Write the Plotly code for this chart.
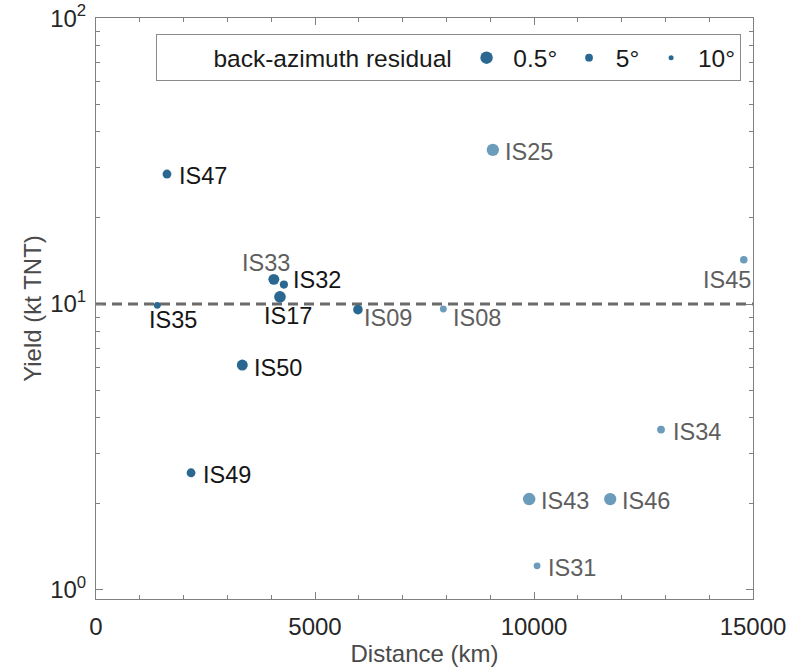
import numpy as np
import plotly.graph_objects as go

# ---------------- data ----------------
stations = ["IS47", "IS33", "IS32", "IS17", "IS35", "IS09", "IS08", "IS25",
            "IS45", "IS50", "IS49", "IS34", "IS43", "IS46", "IS31", "IS27"]
distance_km = [1620, 4060, 4290, 4200, 1400, 5980, 7930, 9060,
               14790, 3340, 2170, 12900, 9890, 11740, 10070, 4810]
yield_kt = [28.5, 12.2, 11.7, 10.6, 9.9, 9.56, 9.61, 34.6,
            14.3, 6.12, 2.57, 3.64, 2.08, 2.08, 1.215, 0.925]
baz_residual_deg = [4.0, 2.0, 4.7, 1.3, 6.7, 3.3, 6.7, 0.7,
                    5.5, 2.0, 4.0, 5.0, 0.5, 0.7, 6.7, 3.0]
# category: 0 = dark marker / black label, 1 = dark marker / grey label, 2 = light marker / grey label
category = [0, 1, 0, 0, 0, 1, 2, 2,
            2, 0, 0, 2, 2, 2, 2, 1]
reference_yield = 10.0
legend_residuals = [0.5, 5, 10]
legend_labels = ["0.5°", "5°", "10°"]
y_tick_vals = [1, 10, 100]
y_tick_text = ["10<sup>0</sup>", "10<sup>1</sup>", "10<sup>2</sup>"]
x_tick_vals = [0, 5000, 10000, 15000]
x_tick_text = ["0", "5000", "10000", "15000"]

# ---------------- styles ----------------
FONT = "Liberation Sans, Arial, Helvetica, sans-serif"
DARK = "#2b6891"
LIGHT = "#6b9cbb"
LABEL_BLACK = "#151515"
LABEL_GREY = "#5e5e5e"
AXIS_GREY = "#808080"
NBSP = "\u00a0"
marker_colors = {0: DARK, 1: DARK, 2: LIGHT}
label_colors = {0: LABEL_BLACK, 1: LABEL_GREY, 2: LABEL_GREY}


def residual_to_size(r):
    # marker diameter (px) vs back-azimuth residual, following the legend keys
    return float(np.interp(r, [0.5, 5, 10], [12.5, 7.8, 5.0]))


# label placement (xanchor, yanchor, xshift, yshift) in pixels
label_style = {
    "IS47": ("left", "middle", 10, -1.5),
    "IS33": ("center", "middle", -7.5, 16.6),
    "IS32": ("left", "middle", 6.7, 5),
    "IS17": ("center", "middle", 8, -19.3),
    "IS35": ("center", "middle", 16, -14.3),
    "IS09": ("left", "middle", 4.4, -8.4),
    "IS08": ("left", "middle", 7.3, -9),
    "IS25": ("left", "middle", 10, -1.6),
    "IS45": ("right", "middle", 9.6, -20),
    "IS50": ("left", "middle", 10, -3.3),
    "IS49": ("left", "middle", 10, -2.7),
    "IS34": ("left", "middle", 10, -2.7),
    "IS43": ("left", "middle", 10, -2),
    "IS46": ("left", "middle", 9.3, -2),
    "IS31": ("left", "middle", 9, -1.7),
    "IS27": ("left", "middle", 3.3, 13.6),
}

fig = go.Figure()

# dashed reference line
fig.add_trace(go.Scatter(
    x=[0, 15000], y=[reference_yield, reference_yield], mode="lines",
    line=dict(color="#6a6a6a", width=3, dash="10px,6px"),
    showlegend=False, hoverinfo="skip"))

# station markers
fig.add_trace(go.Scatter(
    x=distance_km, y=yield_kt, mode="markers",
    marker=dict(size=[residual_to_size(r) for r in baz_residual_deg],
                color=[marker_colors[c] for c in category],
                opacity=1, line=dict(width=0)),
    text=stations, showlegend=False, cliponaxis=False))

# legend entries
legend_names = [NBSP + legend_labels[0] + NBSP, NBSP + legend_labels[1] + NBSP,
                NBSP + legend_labels[2]]
for r, lab in zip(legend_residuals, legend_names):
    fig.add_trace(go.Scatter(
        x=[None], y=[None], mode="markers", name=lab,
        marker=dict(size=residual_to_size(r), color=DARK, opacity=1,
                    line=dict(width=0)),
        showlegend=True))

annotations = []
for s, d, y, c in zip(stations, distance_km, yield_kt, category):
    xa, ya, xs, ys = label_style[s]
    annotations.append(dict(
        x=d, y=np.log10(y), xref="x", yref="y", text=s, showarrow=False,
        xanchor=xa, yanchor=ya, xshift=xs, yshift=ys,
        font=dict(family=FONT, size=23.5, color=label_colors[c])))

fig.update_layout(
    width=799, height=672,
    margin=dict(l=96, r=46, t=18, b=73),
    paper_bgcolor="white", plot_bgcolor="white",
    font=dict(family=FONT, size=24, color="#262626"),
    annotations=annotations,
    showlegend=True,
    legend=dict(
        orientation="h", x=0.9817, xanchor="right", y=0.972, yanchor="top",
        bgcolor="white", bordercolor="#8a8a8a", borderwidth=1,
        font=dict(family=FONT, size=24.5, color="#1a1a1a"),
        title=dict(text=NBSP * 8 + "back-azimuth residual" + NBSP,
                   side="left", font=dict(family=FONT, size=24.5, color="#1a1a1a")),
        itemsizing="trace",
    ),
    xaxis=dict(
        range=[0, 15000], tickmode="array", tickvals=x_tick_vals, ticktext=x_tick_text,
        ticks="inside", ticklen=7, tickcolor=AXIS_GREY, tickwidth=1,
        showline=True, linecolor=AXIS_GREY, linewidth=1, mirror="ticks",
        showgrid=False, zeroline=False, automargin=False,
        tickfont=dict(family=FONT, size=24, color="#262626"),
        ticklabelstandoff=6, ticklabeloverflow="allow",
        minor=dict(dtick=1000, tick0=0, ticks="inside", ticklen=4,
                   tickcolor=AXIS_GREY, showgrid=False),
        title=dict(text="Distance (km)", standoff=6,
                   font=dict(family=FONT, size=24, color="#4a4a4a")),
    ),
    yaxis=dict(
        type="log", range=[np.log10(0.93), 2.0005],
        tickmode="array", tickvals=y_tick_vals, ticktext=y_tick_text,
        ticks="inside", ticklen=7, tickcolor=AXIS_GREY, tickwidth=1,
        showline=True, linecolor=AXIS_GREY, linewidth=1, mirror="ticks",
        showgrid=False, zeroline=False, automargin=False,
        tickfont=dict(family=FONT, size=24, color="#262626"),
        ticklabelstandoff=4, ticklabeloverflow="allow",
        minor=dict(tickmode="array",
                   tickvals=[m * 10 ** e for e in (0, 1) for m in range(2, 10)],
                   ticks="inside", ticklen=4, tickcolor=AXIS_GREY, showgrid=False),
        title=dict(text="Yield (kt TNT)", standoff=1,
                   font=dict(family=FONT, size=24, color="#4a4a4a")),
    ),
)

fig.write_html("out.html", config={"displayModeBar": False},
               post_script="document.body.style.margin='0';")
